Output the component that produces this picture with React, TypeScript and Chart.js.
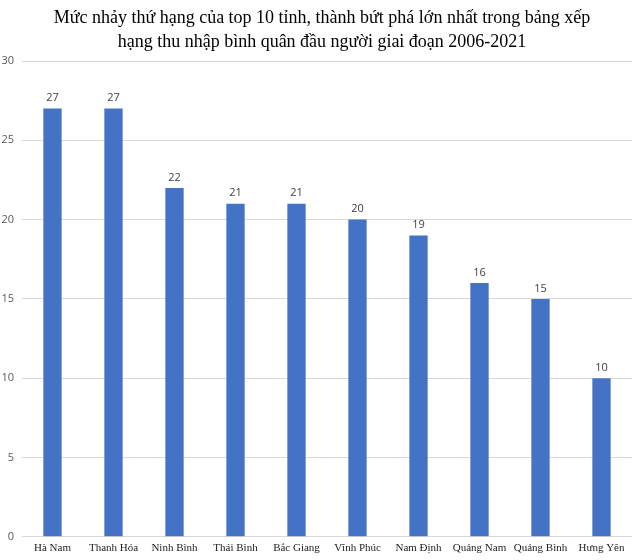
import React, { useEffect, useRef } from "react";
import { Chart, registerables } from "chart.js";

Chart.register(...registerables);

const categories = [
  "Hà Nam",
  "Thanh Hóa",
  "Ninh Bình",
  "Thái Bình",
  "Bắc Giang",
  "Vĩnh Phúc",
  "Nam Định",
  "Quảng Nam",
  "Quảng Bình",
  "Hưng Yên",
];
const rankJumps = [27, 27, 22, 21, 21, 20, 19, 16, 15, 10];
const titleLines = [
  "Mức nhảy thứ hạng của top 10 tỉnh, thành bứt phá lớn nhất trong bảng xếp",
  "hạng thu nhập bình quân đầu người giai đoạn 2006-2021",
];

const valueLabels = {
  id: "valueLabels",
  afterDatasetsDraw(chart: any) {
    const ctx = chart.ctx;
    const meta = chart.getDatasetMeta(0);
    ctx.save();
    ctx.font = "11px 'Open Sans', 'DejaVu Sans', sans-serif";
    ctx.fillStyle = "#404040";
    ctx.textAlign = "center";
    ctx.textBaseline = "bottom";
    meta.data.forEach((bar: any, i: number) => {
      const v = chart.data.datasets[0].data[i];
      ctx.fillText(String(v), bar.x, bar.y - 5);
    });
    ctx.restore();
  },
};

const centeredTitle = {
  id: "centeredTitle",
  afterDraw(chart: any) {
    const ctx = chart.ctx;
    ctx.save();
    ctx.font = "18px 'Liberation Serif', 'Times New Roman', serif";
    ctx.fillStyle = "#000000";
    ctx.textAlign = "center";
    ctx.textBaseline = "middle";
    titleLines.forEach((line, i) => {
      ctx.fillText(line, 322, 18 + i * 24);
    });
    ctx.restore();
  },
};

export default function App() {
  const ref = useRef<HTMLCanvasElement | null>(null);
  useEffect(() => {
    if (!ref.current) return;
    const chart = new Chart(ref.current, {
      type: "bar",
      data: {
        labels: categories,
        datasets: [
          {
            data: rankJumps,
            backgroundColor: "#4472C4",
            barPercentage: 0.3,
            categoryPercentage: 1,
          },
        ],
      },
      options: {
        responsive: false,
        animation: false,
        layout: { padding: { left: 0, right: 8, top: 61, bottom: 0 } },
        plugins: {
          legend: { display: false },
          tooltip: { enabled: false },
          title: { display: false },
        },
        scales: {
          x: {
            grid: { display: false, drawTicks: false },
            border: { display: false },
            ticks: {
              color: "#222222",
              font: { family: "'Liberation Serif', 'Times New Roman', serif", size: 11 },
              maxRotation: 0,
              autoSkip: false,
              padding: 5,
            },
          },
          y: {
            min: 0,
            max: 30,
            ticks: {
              stepSize: 5,
              color: "#595959",
              font: { family: "'Open Sans', 'DejaVu Sans', sans-serif", size: 11 },
              padding: 8,
            },
            grid: { color: "#d9d9d9", drawTicks: false },
            border: { display: false },
            afterFit: (scale: any) => {
              scale.width = 22;
            },
          },
        },
      },
      plugins: [valueLabels, centeredTitle],
    });
    return () => chart.destroy();
  }, []);
  return (
    <div style={{ position: "fixed", left: 0, top: 0, width: 640, height: 560, background: "#fff" }}>
      <canvas ref={ref} width={640} height={560} />
    </div>
  );
}
